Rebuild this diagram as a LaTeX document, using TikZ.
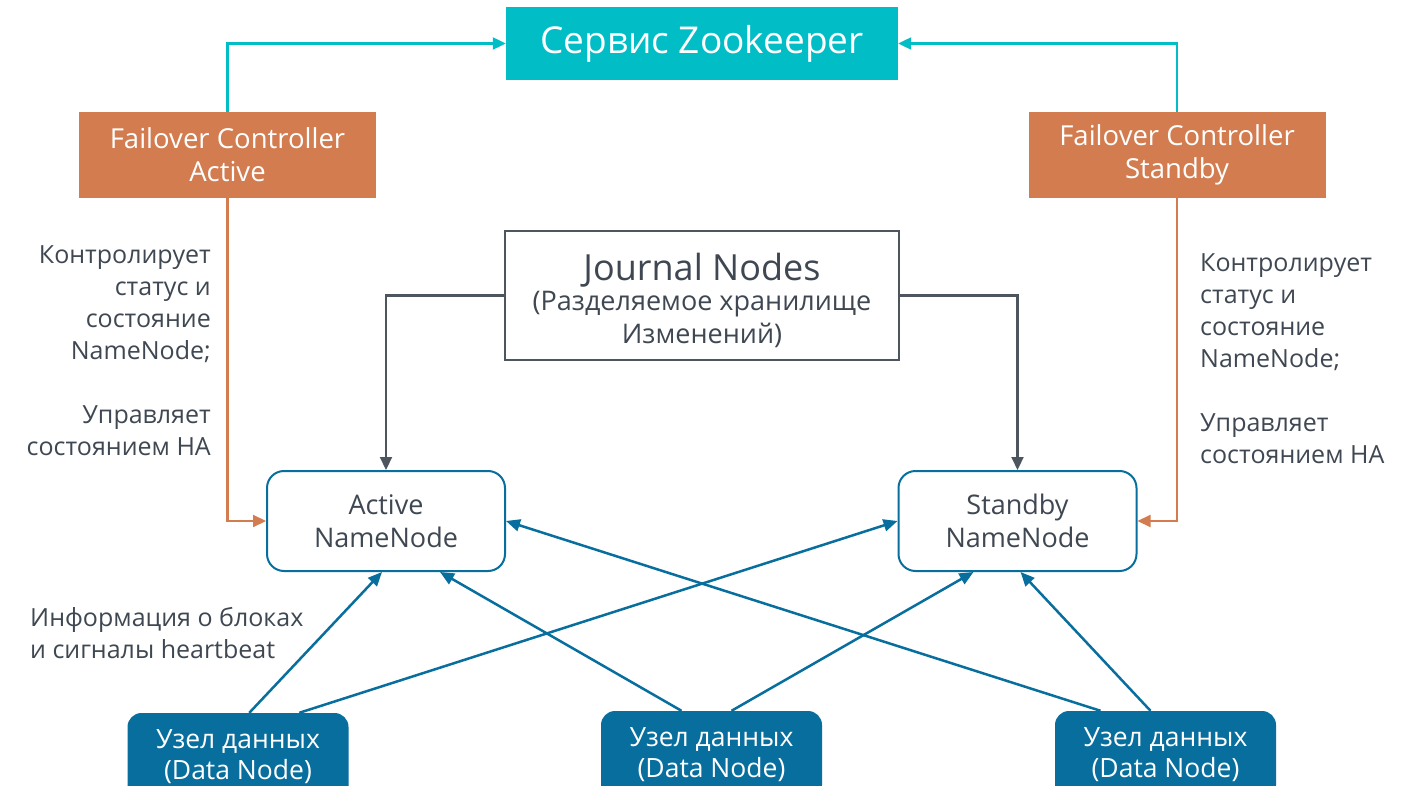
\documentclass[tikz,border=0pt]{standalone}
\usepackage{fontspec}
\setmainfont{Open Sans}
\usetikzlibrary{arrows.meta,calc}
\definecolor{zkcyan}{HTML}{00BDC6}
\definecolor{fcorange}{HTML}{D27C4F}
\definecolor{nnblue}{HTML}{076E9E}
\definecolor{jngray}{HTML}{4D555E}
\definecolor{txtgray}{HTML}{3F4852}
\tikzset{
  x=1pt,y=-1pt,
  zkbox/.style={fill=zkcyan,text=white,minimum width=392pt,minimum height=73pt,inner sep=0pt,font=\fontsize{37}{42}\selectfont},
  fcbox/.style={fill=fcorange,text=white,minimum width=297pt,minimum height=86pt,inner sep=0pt,align=center,font=\fontsize{27.5}{33}\selectfont},
  jnbox/.style={draw=jngray,line width=2pt,fill=white,minimum width=394pt,minimum height=129pt,inner sep=0pt,align=center,text=txtgray},
  nnbox/.style={draw=nnblue,line width=2pt,rounded corners=17pt,fill=white,minimum width=238pt,minimum height=100pt,inner sep=0pt,align=center,text=txtgray,font=\fontsize{27}{33}\selectfont},
  dnbox/.style={fill=nnblue,rounded corners=14pt,text=white,minimum width=221pt,minimum height=88pt,inner sep=0pt,align=center,font=\fontsize{26.5}{31}\selectfont},
  lbl/.style={text=txtgray,inner sep=0pt,font=\fontsize{25}{32}\selectfont},
  cyanline/.style={draw=zkcyan,line width=2.2pt,-{Triangle[length=13pt,width=12pt]}},
  orangeline/.style={draw=fcorange,line width=2.2pt,-{Triangle[length=13pt,width=12pt]}},
  grayline/.style={draw=jngray,line width=2.2pt,-{Triangle[length=13pt,width=12pt]}},
  blueline/.style={draw=nnblue,line width=2.5pt,-{Triangle[length=14pt,width=12pt]}}
}
\begin{document}
\begin{tikzpicture}
\clip (0,0) rectangle (1416,786);
\fill[white] (0,0) rectangle (1416,786);

\node[zkbox] (zk) at (702,43.5) {Сервис Zookeeper};
\node[fcbox] (fca) at (227.5,155) {Failover Controller\\Active};
\node[fcbox] (fcs) at (1177,155) {Failover Controller\\Standby};
\node[jnbox] (jn) at (702,295.5) {};
\node[text=txtgray,inner sep=0pt,align=center,font=\fontsize{27}{33}\selectfont] (jnt) at ([yshift=-5pt]jn.center) {{\fontsize{36}{40}\selectfont Journal Nodes}\\[-3pt](Разделяемое хранилище\\Изменений)};
\node[nnbox] (ann) at (386,521) {Active\\NameNode};
\node[nnbox] (snn) at (1017.5,521) {Standby\\NameNode};
\node[dnbox] (dn1) at (238,757) {Узел данных\\(Data Node)};
\node[dnbox] (dn2) at (711.5,755) {Узел данных\\(Data Node)};
\node[dnbox] (dn3) at (1165.5,755) {Узел данных\\(Data Node)};

\node[lbl,align=right,anchor=east] (lblA) at (211,351) {Контролирует\\статус и\\состояние\\NameNode;\\[32pt]Управляет\\состоянием HA};
\node[lbl,align=left,anchor=west] (lblS) at (1200,358.5) {Контролирует\\статус и\\состояние\\NameNode;\\[32pt]Управляет\\состоянием HA};
\node[lbl,align=left,anchor=west] (lblI) at (30,633) {Информация о блоках\\и сигналы heartbeat};

\draw[cyanline] (fca.north) |- (zk.west);
\draw[cyanline] (fcs.north) |- (zk.east);
\draw[orangeline] (fca.south) |- (ann.west);
\draw[orangeline] (fcs.south) |- (snn.east);
\draw[grayline] (jn.west) -| (ann.north);
\draw[grayline] (jn.east) -| (snn.north);

\draw[blueline] ([xshift=122pt]dn1.north west) -- ([xshift=-4pt]ann.south);
\draw[blueline] ([xshift=172pt]dn1.north west) -- (snn.west);
\draw[blueline] ([xshift=-30pt]dn2.north) -- ([xshift=54pt]ann.south);
\draw[blueline] ([xshift=20pt]dn2.north) -- ([xshift=-44pt]snn.south);
\draw[blueline] ([xshift=-65pt]dn3.north) -- (ann.east);
\draw[blueline] ([xshift=-15pt]dn3.north) -- ([xshift=3pt]snn.south);
\end{tikzpicture}
\end{document}
